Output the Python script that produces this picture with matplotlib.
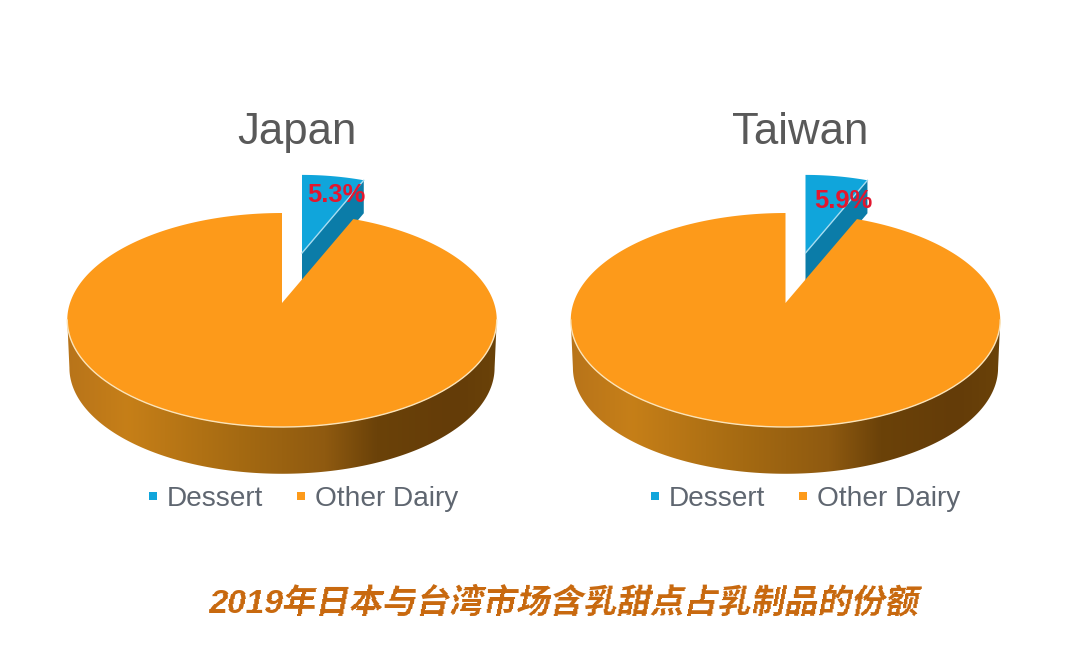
import numpy as np
import matplotlib
matplotlib.use("Agg")
import matplotlib.pyplot as plt
from matplotlib.colors import LinearSegmentedColormap
from matplotlib.lines import Line2D
from matplotlib.patches import Polygon

# ---- data ----
regions = ["Japan", "Taiwan"]
dessert_share = [5.3, 5.9]
categories = ["Dessert", "Other Dairy"]
caption = "2019年日本与台湾市场含乳甜点占乳制品的份额"

# ---- style ----
BLUE = "#10a5db"
BLUE_WALL = "#0b7ca8"
ORANGE = "#fd9a1a"
WW, HH = 1080, 671
W_COLORS = ["#b8741a", "#c67f18", "#a56a12", "#8f5a10", "#6b4209", "#643c08", "#6a4209"]
wall_cmap = LinearSegmentedColormap.from_list(
    "wall", list(zip([0, .14, .4, .6, .72, .9, 1], W_COLORS)))

RX, RY, K = 212.0, 104.3, 0.159      # projected pie: half width, half height, perspective
CY = 303.0                            # y of the pie's centre on screen
DEPTH = 48.0


def project(cx, cy, r, theta, scale=1.0):
    """theta in degrees, clockwise from 12 o'clock; returns screen x, y."""
    t = np.radians(theta)
    u, v = r * np.sin(t), r * np.cos(t)
    f = 1 + K * v
    return cx + scale * RX * u / f, cy - scale * RY * v / f


def draw_panel(ax, xr, name, share, angle_extra, cx, title_x, label_xy, legend_x):
    ax.set_xlim(*xr)
    ax.set_ylim(HH, 0)
    ax.axis("off")
    sweep = 360 * share / 100 + angle_extra

    # exploded slice
    ox, oy = cx + 20, CY - 50
    th = np.linspace(0, sweep, 40)
    wx, wy = project(ox, oy, 0.85, th)
    rx_, ry_ = project(ox, oy, 0.85, sweep)
    ax.fill([ox, rx_, rx_, ox], [oy, ry_, ry_ + 33, oy + 33], color=BLUE_WALL, lw=0, zorder=2)
    ax.fill(np.r_[ox, wx], np.r_[oy, wy], color=BLUE, lw=0, zorder=3)
    ax.plot([ox, rx_], [oy, ry_], color="#a6dcf0", lw=1.0, zorder=4)

    # pie wall with a horizontal gradient
    tang = np.degrees(np.arcsin(K)) + 90
    th = np.linspace(tang, 360 - tang + 0, 200)
    tx, ty = project(cx, CY, 1, th)
    bx, by = project(cx, CY + DEPTH, 1, th, scale=0.99)
    poly = Polygon(np.c_[np.r_[tx, bx[::-1]], np.r_[ty, by[::-1]]], closed=True,
                   transform=ax.transData, fc="none", ec="none")
    ax.add_patch(poly)
    x0, x1 = cx - 215, cx + 215
    grad = np.linspace(0, 1, 256)[None, :]
    im = ax.imshow(grad, extent=(x0, x1, CY + 190, CY), cmap=wall_cmap, aspect="auto", zorder=1)
    im.set_clip_path(poly)
    ax.set_xlim(*xr)
    ax.set_ylim(HH, 0)

    # main pie
    th = np.linspace(sweep, 360, 400)
    px, py = project(cx, CY, 1, th)
    ax.fill(np.r_[cx, px], np.r_[CY, py], color=ORANGE, lw=0, zorder=5)
    th = np.linspace(tang, 360 - tang, 200)
    rx2, ry2 = project(cx, CY, 1, th)
    ax.plot(rx2, ry2, color="#fbe3b8", lw=1.0, zorder=6)

    # value label, title, legend
    ax.text(label_xy[0], label_xy[1], f"{share:.1f}%", color="#e2172f", fontsize=18.4,
            ha="center", va="center", zorder=8, family="Liberation Sans", fontweight="bold")
    ax.text(title_x, 144, name, color="#595959", fontsize=31.5, ha="center", va="baseline",
            family="Liberation Sans")
    handles = [Line2D([], [], ls="none", marker="s", ms=6, color=c, mew=0) for c in (BLUE, ORANGE)]
    ax.legend(handles, categories, loc="center", bbox_to_anchor=(legend_x, 499),
              bbox_transform=ax.transData, ncol=2, frameon=False,
              labelcolor="#5f6670", prop={"family": "Liberation Sans", "size": 20.2},
              handlelength=0.5, handletextpad=0.25, columnspacing=1.1, borderpad=0)


fig = plt.figure(figsize=(WW / 100, HH / 100), dpi=100, facecolor="white")
ax1 = fig.add_axes([0, 0, 0.5, 1])
ax2 = fig.add_axes([0.5, 0, 0.5, 1])
draw_panel(ax1, (0, 540), regions[0], dessert_share[0], 3.6, 282, 297, (336.5, 195), 302)
draw_panel(ax2, (540, 1080), regions[1], dessert_share[1], 1.5, 785.5, 800, (843.5, 201), 804)


def shear(image, dpi):
    """Slant the caption's glyphs, since the CJK fonts have no italic cut."""
    h, w = image.shape[:2]
    s = 0.2
    pad = int(h * s) + 2
    out = np.zeros((h, w + pad, image.shape[2]), dtype=image.dtype)
    for i in range(h):
        d = int(round((h - 1 - i) * s))
        out[i, d:d + w] = image[i]
    return out, -pad / 2, 0


cap = fig.text(566 / WW, 1 - 603 / HH, caption, color="#c8690f", fontsize=24.1, ha="center",
               va="center", fontweight="bold",
               family=["Liberation Sans", "Noto Sans CJK SC"])
cap.set_agg_filter(shear)

fig.savefig("out.png", dpi=100, facecolor="white")
